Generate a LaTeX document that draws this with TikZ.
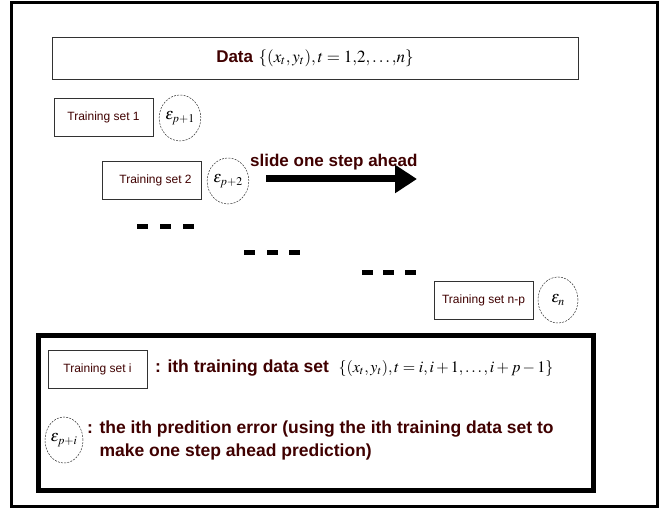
\documentclass[tikz,border=0pt]{standalone}
\usepackage{mathptmx}
\usepackage[no-math]{fontspec}
\setmainfont{Liberation Sans}
\usepackage{tikz}
\usetikzlibrary{shapes,positioning,calc}
\usetikzlibrary{shapes.geometric}
\usetikzlibrary{arrows.meta}
\definecolor{txtred}{RGB}{64,0,0}
\definecolor{boxline}{RGB}{50,50,50}
\tikzstyle{trainset} = [rectangle, minimum width=99pt, minimum height=38pt, inner sep=0pt,
text centered, draw=boxline, line width=0.8pt, text=txtred, font=\fontsize{12}{14}\selectfont]
\tikzstyle{errnode} = [ellipse, minimum width=40pt, minimum height=46pt, inner sep=0pt,
draw=boxline, line width=0.5pt, dash pattern=on 2pt off 1.2pt, font=\fontsize{16}{18}\selectfont]
\tikzstyle{boldtxt} = [text=txtred, font=\bfseries\fontsize{17.5}{21}\selectfont, inner sep=0pt]
\tikzstyle{dashbar} = [fill=black, minimum width=11pt, minimum height=5pt, inner sep=0pt]
\tikzstyle{arrow} = [line width=7pt, -{Triangle[length=22pt,width=27pt]}]

\begin{document}
\begin{tikzpicture}[x=1pt,y=-1pt]
\useasboundingbox (0,0) rectangle (661,510);
\fill[white] (0,0) rectangle (661,510);
\draw[line width=3pt] (11,3) rectangle (657,506);

% data row
\node (data) at (315,58) [rectangle, draw=boxline, line width=0.8pt, minimum width=526pt, minimum height=42pt] {};
\node (datatxt) at (315,58) {\textcolor{txtred}{\bfseries\fontsize{17}{20}\selectfont Data}\ \ \fontsize{17}{20}\selectfont$\{(x_t,y_t),t=1{,}2{,}\ldots{,}n\}$};

% sliding training sets
\node (ts1) at (103.5,117) [trainset] {Training set 1};
\node (e1) at (180,118) [errnode] {$\varepsilon_{p+1}$};
\node (ts2) at (151.5,180) [trainset] {\hspace*{8pt}Training set 2};
\node (e2) at (228,181) [errnode] {$\varepsilon_{p+2}$};
\node (tsn) at (483.5,300) [trainset] {Training set n-p};
\node (en) at (558,300) [errnode] {$\varepsilon_{n}$};

\coordinate (arrs) at (266,179);
\coordinate (arre) at (417,179);
\draw[arrow] (arrs) -- (arre);
\node[boldtxt, anchor=base west] (slide) at (250,167) {\fontsize{17}{20}\selectfont slide one step ahead};

% dots between the sets
\foreach \x/\y in {142.5/227, 165.5/227, 188/227, 249.5/253, 272/253, 294/253, 367.5/273, 388/273, 410.5/273}
  \node[dashbar] at (\x,\y) {};

% legend
\draw[line width=5pt] (38,336) rectangle (593,490);
\node (tsi) at (97.5,369.5) [trainset] {Training set i};
\node[boldtxt, anchor=west] (tsitxt) at (155,368) {: ith training data set\ \ \mdseries\textcolor{black}{\fontsize{16}{19}\selectfont$\{(x_t,y_t),t=i,i+1,\ldots,i+p-1\}$}};
\node (ei) at (64,440) [errnode, minimum width=38pt] {$\varepsilon_{p+i}$};
\node[boldtxt, anchor=west, align=left] (eitxt) at (87,440) {: the ith predition error (using the ith training data set to\\[2pt]\hphantom{: }make one step ahead prediction)};
\end{tikzpicture}
\end{document}
